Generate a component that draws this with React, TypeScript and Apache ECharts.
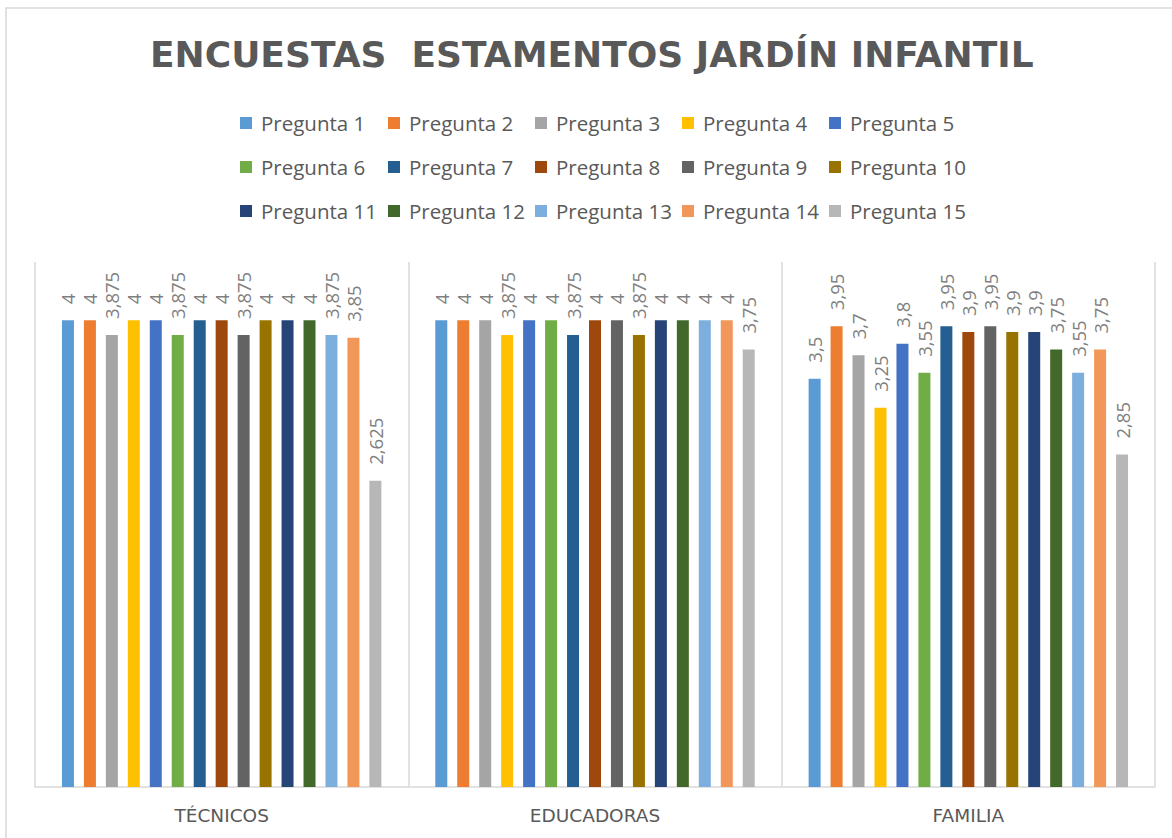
import React, { useEffect, useRef } from "react";
import * as echarts from "echarts";

const categories = ["TÉCNICOS", "EDUCADORAS", "FAMILIA"];
const seriesNames = [
  "Pregunta 1", "Pregunta 2", "Pregunta 3", "Pregunta 4", "Pregunta 5",
  "Pregunta 6", "Pregunta 7", "Pregunta 8", "Pregunta 9", "Pregunta 10",
  "Pregunta 11", "Pregunta 12", "Pregunta 13", "Pregunta 14", "Pregunta 15",
];
const tecnicos = [4, 4, 3.875, 4, 4, 3.875, 4, 4, 3.875, 4, 4, 4, 3.875, 3.85, 2.625];
const educadoras = [4, 4, 4, 3.875, 4, 4, 3.875, 4, 4, 3.875, 4, 4, 4, 4, 3.75];
const familia = [3.5, 3.95, 3.7, 3.25, 3.8, 3.55, 3.95, 3.9, 3.95, 3.9, 3.9, 3.75, 3.55, 3.75, 2.85];
const colors = [
  "#5B9BD5", "#ED7D31", "#A5A5A5", "#FFC000", "#4472C4",
  "#70AD47", "#255E91", "#9E480E", "#636363", "#997300",
  "#264478", "#43682B", "#7CAFDD", "#F1975A", "#B7B7B7",
];

const FONT = "'Open Sans', 'Noto Sans', sans-serif";

export default function App() {
  const ref = useRef<HTMLDivElement>(null);
  useEffect(() => {
    if (!ref.current) return;
    const chart = echarts.init(ref.current, undefined, { renderer: "svg" });
    const fmt = (v: number) => String(v).replace(".", ",");
    const series = seriesNames.map((name, i) => ({
      name,
      type: "bar",
      data: [tecnicos[i], educadoras[i], familia[i]],
      barWidth: 12,
      barGap: "83%",
      itemStyle: { color: colors[i] },
      label: {
        show: true,
        position: "top",
        rotate: 90,
        align: "left",
        verticalAlign: "middle",
        distance: 16,
        color: "#7F7F7F",
        fontSize: 18.5,
        fontFamily: FONT,
        formatter: (p: any) => fmt(p.value),
      },
    }));
    const colLeft = [240, 388, 535, 682, 829];
    const legends = colLeft.map((left, c) => ({
      orient: "vertical",
      left,
      top: 111,
      padding: 0,
      itemWidth: 12,
      itemHeight: 12,
      itemGap: 20,
      icon: "rect",
      data: [seriesNames[c], seriesNames[c + 5], seriesNames[c + 10]],
      textStyle: { color: "#595959", fontSize: 20.5, fontFamily: FONT, lineHeight: 24, padding: [0, 0, 0, 4] },
    }));
    chart.setOption({
      animation: false,
      backgroundColor: "#ffffff",
      color: colors,
      title: {
        text: "ENCUESTAS  ESTAMENTOS JARDÍN INFANTIL",
        left: 145,
        top: 31,
        textStyle: { color: "#595959", fontSize: 36, fontWeight: "bold", fontFamily: "'DejaVu Sans', sans-serif" },
      },
      legend: legends,
      grid: { left: 35, right: 17, top: 262, bottom: 51 },
      xAxis: {
        type: "category",
        data: categories,
        axisLine: { show: true, lineStyle: { color: "#D9D9D9", width: 1.5 } },
        axisTick: { show: false },
        splitLine: { show: true, lineStyle: { color: "#D9D9D9", width: 1.5 } },
        axisLabel: { color: "#595959", fontSize: 18.5, fontFamily: "'DejaVu Sans', sans-serif", margin: 19 },
      },
      yAxis: {
        type: "value",
        min: 0,
        max: 4.5,
        show: false,
        splitLine: { show: false },
      },
      graphic: [
        {
          type: "rect",
          shape: { x: 6, y: 8, width: 1200, height: 900 },
          style: { fill: "none", stroke: "#D9D9D9", lineWidth: 1.5 },
          silent: true,
        },
      ],
      series,
    });
    return () => chart.dispose();
  }, []);
  return (
    <div
      ref={ref}
      style={{ position: "fixed", left: 0, top: 0, width: 1172, height: 838, background: "#fff" }}
    />
  );
}
